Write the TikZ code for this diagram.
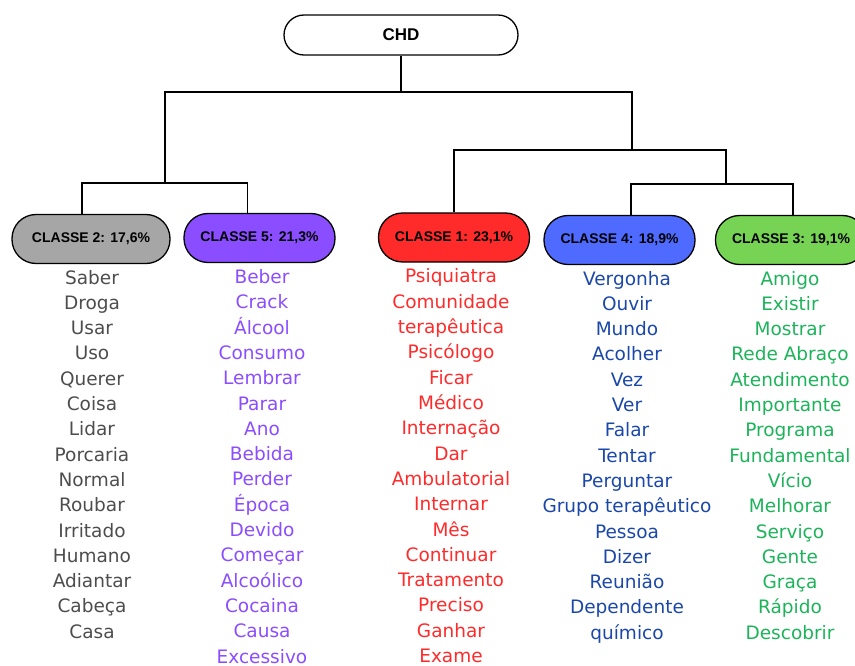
\documentclass[tikz,border=0pt]{standalone}
\usepackage{fontspec}
\setmainfont{Liberation Sans}
\newfontfamily\handfont{DejaVu Sans}
\usetikzlibrary{positioning}

\definecolor{boxgrey}{HTML}{A6A6A6}
\definecolor{boxpurple}{HTML}{8A4DFF}
\definecolor{boxred}{HTML}{FF2A2A}
\definecolor{boxblue}{HTML}{4F6BFF}
\definecolor{boxgreen}{HTML}{77D353}
\definecolor{txtgrey}{HTML}{4D4D4D}
\definecolor{txtpurple}{HTML}{8A4DFF}
\definecolor{txtred}{HTML}{FF2A2A}
\definecolor{txtblue}{HTML}{1A47A8}
\definecolor{txtgreen}{HTML}{1DB35A}

\begin{document}
\begin{tikzpicture}[x=1pt,y=-1pt,line width=1.3pt,
  classe/.style={draw,rounded corners=24pt,minimum width=151pt,minimum height=49pt,
    inner sep=0pt,font=\bfseries\fontsize{14}{16}\selectfont},
  word/.style={anchor=base,inner sep=0pt,font=\handfont\fontsize{18.5}{21}\selectfont}]

\useasboundingbox (0,0) rectangle (855,666);
\clip (0,0) rectangle (855,666);

\node[draw,rounded corners=20pt,minimum width=234pt,minimum height=40pt,inner sep=0pt,
  font=\bfseries\fontsize{17}{19}\selectfont] (chd) at (401,35) {CHD};

\node[classe,fill=boxgrey,minimum width=158pt]  (c2) at (91,239)    {CLASSE 2: 17,6\%};
\node[classe,fill=boxpurple] (c5) at (259.5,238)  {CLASSE 5: 21,3\%};
\node[classe,fill=boxred]    (c1) at (454,237.5)  {CLASSE 1: 23,1\%};
\node[classe,fill=boxblue]   (c4) at (619.5,240)  {CLASSE 4: 18,9\%};
\node[classe,fill=boxgreen]  (c3) at (791,240)    {CLASSE 3: 19,1\%};

% dendrogram
\coordinate (r0) at (401,92);
\coordinate (ja) at (165,183);
\coordinate (jb) at (632,150);
\coordinate (jc) at (726,184);

\draw (chd.south) -- (r0);
\draw (ja) |- (r0) -| (jb);
\draw ([xshift=-9pt]c2.north) |- (ja) -| ([xshift=-12pt]c5.north);
\draw (c1.north) |- (jb) -| (jc);
\draw ([xshift=11.5pt]c4.north) |- (jc) -| ([xshift=2pt]c3.north);

% word lists
\foreach \w [count=\i] in {Saber,Droga,Usar,Uso,Querer,Coisa,Lidar,Porcaria,Normal,
  Roubar,Irritado,Humano,Adiantar,Cabeça,Casa}
  \node[word,text=txtgrey] (w2-\i) at (92,258.7+25.3*\i) {\w};

\foreach \w [count=\i] in {Beber,Crack,Álcool,Consumo,Lembrar,Parar,Ano,Bebida,Perder,
  Época,Devido,Começar,Alcoólico,Cocaina,Causa,Excessivo}
  \node[word,text=txtpurple] (w5-\i) at (262,258.2+25.3*\i) {\w};

\foreach \w [count=\i] in {Psiquiatra,Comunidade,terapêutica,Psicólogo,Ficar,Médico,
  Internação,Dar,Ambulatorial,Internar,Mês,Continuar,Tratamento,Preciso,Ganhar,Exame}
  \node[word,text=txtred] (w1-\i) at (451,257.7+25.3*\i) {\w};

\foreach \w [count=\i] in {Vergonha,Ouvir,Mundo,Acolher,Vez,Ver,Falar,Tentar,Perguntar,
  Grupo terapêutico,Pessoa,Dizer,Reunião,Dependente,químico}
  \node[word,text=txtblue] (w4-\i) at (627,259.7+25.3*\i) {\w};

\foreach \w [count=\i] in {Amigo,Existir,Mostrar,Rede Abraço,Atendimento,Importante,
  Programa,Fundamental,Vício,Melhorar,Serviço,Gente,Graça,Rápido,Descobrir}
  \node[word,text=txtgreen] (w3-\i) at (790,259.7+25.3*\i) {\w};

\end{tikzpicture}
\end{document}
